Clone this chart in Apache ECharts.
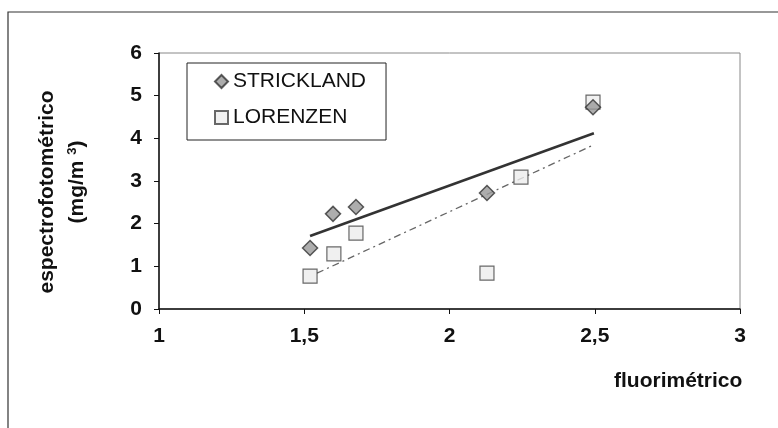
<!DOCTYPE html>
<html>
<head>
<meta charset="utf-8">
<script src="https://cdn.jsdelivr.net/npm/echarts@6/dist/echarts.min.js"></script>
<style>
  html, body { margin: 0; padding: 0; background: #fff; }
  #main { width: 778px; height: 428px; }
</style>
</head>
<body>
<div id="main"></div>
<script>
// datos
var stricklandX = [1.52, 1.599, 1.678, 2.129, 2.494];
var stricklandY = [1.43, 2.23, 2.39, 2.72, 4.73];
var lorenzenX = [1.52, 1.602, 1.678, 2.129, 2.246, 2.494];
var lorenzenY = [0.77, 1.29, 1.78, 0.84, 3.09, 4.85];
// lineas de tendencia (extremos)
var trendStrickX = [1.52, 2.497];
var trendStrickY = [1.71, 4.12];
var trendLorenX = [1.544, 2.494];
var trendLorenY = [0.84, 3.84];
var xTicks = [1, 1.5, 2, 2.5, 3];
var yTicks = [0, 1, 2, 3, 4, 5, 6];

function pairs(xs, ys) {
  return xs.map(function (x, i) { return [x, ys[i]]; });
}

var myChart = echarts.init(document.getElementById("main"));
var font = "'Liberation Sans', Arial, sans-serif";

var option = {
  backgroundColor: "#fff",
  animation: false,
  textStyle: { fontFamily: font },
  grid: {
    left: 159,
    right: 38,
    top: 53,
    bottom: 119,
    show: true,
    borderColor: "#888",
    borderWidth: 1
  },
  legend: {
    orient: "vertical",
    left: 187,
    top: 63,
    data: ["STRICKLAND", "LORENZEN"],
    borderColor: "#222",
    borderWidth: 1,
    padding: [8, 20, 12, 27],
    itemGap: 15,
    itemWidth: 13,
    itemHeight: 13,
    textStyle: { fontSize: 21, color: "#111", fontFamily: font }
  },
  xAxis: {
    type: "value",
    min: xTicks[0],
    max: xTicks[xTicks.length - 1],
    interval: 0.5,
    axisLine: { show: true, lineStyle: { color: "#111", width: 1.5 } },
    axisTick: { show: true, inside: false, length: 5, lineStyle: { color: "#111" } },
    splitLine: { show: false },
    axisLabel: {
      margin: 17,
      fontSize: 21,
      fontWeight: "bold",
      color: "#111",
      formatter: function (v) { return String(v).replace(".", ","); }
    }
  },
  yAxis: {
    type: "value",
    min: yTicks[0],
    max: yTicks[yTicks.length - 1],
    interval: 1,
    axisLine: { show: true, lineStyle: { color: "#111", width: 1.5 } },
    axisTick: { show: true, inside: false, length: 5, lineStyle: { color: "#111" } },
    splitLine: { show: false },
    axisLabel: { margin: 17, fontSize: 21, fontWeight: "bold", color: "#111" }
  },
  graphic: [
    {
      type: "polyline",
      shape: { points: [[8, 428], [8, 12], [778, 12]] },
      style: { stroke: "#333", lineWidth: 1.2, fill: null }
    },
    {
      type: "text",
      left: 614,
      top: 371,
      style: { text: "fluorimétrico", fontSize: 21, fontWeight: "bold", fill: "#111", fontFamily: font }
    },
    {
      type: "text",
      x: 47,
      y: 192,
      rotation: Math.PI / 2,
      style: {
        text: "espectrofotométrico",
        fontSize: 21,
        fontWeight: "bold",
        fill: "#111",
        fontFamily: font,
        align: "center",
        verticalAlign: "middle"
      }
    },
    {
      type: "text",
      x: 77,
      y: 182,
      rotation: Math.PI / 2,
      style: {
        text: "(mg/m {s|3})",
        fontSize: 21,
        fontWeight: "bold",
        fill: "#111",
        fontFamily: font,
        align: "center",
        verticalAlign: "middle",
        rich: {
          s: { fontSize: 13, fontWeight: "bold", verticalAlign: "top", padding: [0, 0, 9, 0], fill: "#111" }
        }
      }
    }
  ],
  series: [
    {
      name: "tendencia STRICKLAND",
      type: "line",
      data: pairs(trendStrickX, trendStrickY),
      showSymbol: false,
      symbol: "none",
      silent: true,
      lineStyle: { color: "#333", width: 2.5, type: "solid" },
      z: 1
    },
    {
      name: "tendencia LORENZEN",
      type: "line",
      data: pairs(trendLorenX, trendLorenY),
      showSymbol: false,
      symbol: "none",
      silent: true,
      lineStyle: { color: "#666", width: 1.3, type: [7, 4, 2, 4] },
      z: 1
    },
    {
      name: "STRICKLAND",
      type: "scatter",
      symbol: "diamond",
      symbolSize: 15,
      data: pairs(stricklandX, stricklandY),
      itemStyle: { color: "#999", borderColor: "#333", borderWidth: 1.5 },
      z: 3
    },
    {
      name: "LORENZEN",
      type: "scatter",
      symbol: "rect",
      symbolSize: 14,
      data: pairs(lorenzenX, lorenzenY),
      itemStyle: { color: "#ececec", borderColor: "#444", borderWidth: 1.2 },
      z: 2
    }
  ]
};

myChart.setOption(option);
</script>
</body>
</html>
